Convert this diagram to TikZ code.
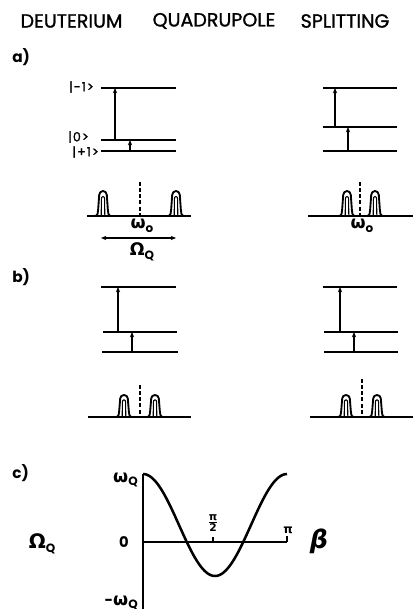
\documentclass[tikz,border=0pt]{standalone}
\usepackage{fontspec}
\setmainfont{Poppins}
\newfontfamily\gr{DejaVu Sans}
\newfontfamily\ttl{Poppins}[FakeBold=1.2]
\newfontfamily\ket{Poppins}[LetterSpace=8,FakeBold=1.5]
\usetikzlibrary{arrows.meta}
\newcommand\gsub[3]{{\gr\bfseries\fontsize{#3}{#3}\selectfont #1}\raisebox{-0.5ex}{\fontsize{9}{9}\selectfont\bfseries #2}}
\tikzset{
  lvl/.style={line width=1.4pt},
  trans/.style={line width=1.3pt,-{Stealth[length=4pt,width=3.2pt]}},
  peakline/.style={line width=1.4pt,line join=round},
  base/.style={line width=1.4pt},
  mid/.style={line width=1.4pt,dash pattern=on 3pt off 1.6pt},
  lab/.style={inner sep=0pt,font=\ket\fontsize{9.5}{10}\selectfont},
  plab/.style={inner sep=0pt,font=\fontsize{11.5}{12}\selectfont\bfseries},
  ax/.style={line width=1.5pt},
  titl/.style={inner sep=0pt,font=\ttl\fontsize{14.3}{16}\selectfont},
  pics/peak/.style={code={
    \draw[peakline] (-8,0) to[out=0,in=-95] (-4.8,-7) -- (-3.8,-21) to[out=90,in=180] (0,-25) to[out=0,in=90] (3.8,-21) -- (4.8,-7) to[out=-85,in=180] (8,0);
    \draw[line width=0.8pt] (-1.8,0) -- (-1.6,-17) to[out=90,in=180] (0,-19.5) to[out=0,in=90] (1.6,-17) -- (1.8,0);
  }}
}
\begin{document}
\begin{tikzpicture}[x=0.75pt,y=-0.75pt]
\useasboundingbox (0,0) rectangle (413,609);
% title
\node[titl] (t1) at (71.5,21) {DEUTERIUM};
\node[titl] (t2) at (214,21) {QUADRUPOLE};
\node[titl] (t3) at (345,21) {SPLITTING};
% panel labels
\node[plab,anchor=west] (la) at (12,57) {a)};
\node[plab,anchor=west] (lb) at (12,277) {b)};
\node[plab,anchor=west] (lc) at (12,473) {c)};

% ---- a) left levels
\coordinate (aL1a) at (101,88);  \coordinate (aL1b) at (176,88);
\coordinate (aL2a) at (101,140); \coordinate (aL2b) at (176,140);
\coordinate (aL3a) at (101,151); \coordinate (aL3b) at (176,151);
\draw[lvl] (aL1a) -- (aL1b);
\draw[lvl] (aL2a) -- (aL2b);
\draw[lvl] (aL3a) -- (aL3b);
\node[lab,anchor=east] (km1) at (94,87) {|-1>};
\node[lab,anchor=east] (k0) at (89,137) {|0>};
\node[lab,anchor=east] (kp1) at (99,152) {|+1>};
\coordinate (aT1s) at (115,140); \coordinate (aT1e) at (115,88);
\coordinate (aT2s) at (130,151); \coordinate (aT2e) at (130,140);
\draw[trans] (aT1s) -- (aT1e);
\draw[trans] (aT2s) -- (aT2e);

% ---- a) right levels
\coordinate (aR1a) at (323,88);  \coordinate (aR1b) at (397,88);
\coordinate (aR2a) at (323,127); \coordinate (aR2b) at (397,127);
\coordinate (aR3a) at (323,151); \coordinate (aR3b) at (397,151);
\draw[lvl] (aR1a) -- (aR1b);
\draw[lvl] (aR2a) -- (aR2b);
\draw[lvl] (aR3a) -- (aR3b);
\coordinate (aRT1s) at (335,127); \coordinate (aRT1e) at (335,88);
\coordinate (aRT2s) at (348,151); \coordinate (aRT2e) at (348,127);
\draw[trans] (aRT1s) -- (aRT1e);
\draw[trans] (aRT2s) -- (aRT2e);

% ---- a) left spectrum
\coordinate (sA1) at (87,216); \coordinate (sA2) at (191,216);
\draw[base] (sA1) -- (sA2);
\pic at (103,216) {peak};
\pic at (176,216) {peak};
\coordinate (dA1) at (140,182); \coordinate (dA2) at (140,216);
\draw[mid] (dA1) -- (dA2);
\node[inner sep=0pt] (w0a) at (142,226) {\gsub{ω}{o}{13}};
\coordinate (oA1) at (101,238); \coordinate (oA2) at (176,238);
\draw[line width=1.2pt,{Stealth[length=4pt,width=3.2pt]}-{Stealth[length=4pt,width=3.2pt]}] (oA1) -- (oA2);
\node[inner sep=0pt] (OmA) at (142,252) {\gsub{Ω}{Q}{13}};

% ---- a) right spectrum
\coordinate (sB1) at (308,216); \coordinate (sB2) at (413,216);
\draw[base] (sB1) -- (sB2);
\pic at (347,216) {peak};
\pic at (375,216) {peak};
\coordinate (dB1) at (360,182); \coordinate (dB2) at (360,216);
\draw[mid] (dB1) -- (dB2);
\node[inner sep=0pt] (w0b) at (362,226) {\gsub{ω}{o}{13}};

% ---- b) left levels
\coordinate (bL1a) at (101,287); \coordinate (bL1b) at (176,287);
\coordinate (bL2a) at (103,332); \coordinate (bL2b) at (177,332);
\coordinate (bL3a) at (102,352); \coordinate (bL3b) at (178,352);
\draw[lvl] (bL1a) -- (bL1b);
\draw[lvl] (bL2a) -- (bL2b);
\draw[lvl] (bL3a) -- (bL3b);
\coordinate (bT1s) at (118,332); \coordinate (bT1e) at (118,287);
\coordinate (bT2s) at (132,352); \coordinate (bT2e) at (132,332);
\draw[trans] (bT1s) -- (bT1e);
\draw[trans] (bT2s) -- (bT2e);

% ---- b) right levels
\coordinate (bR1a) at (323,287); \coordinate (bR1b) at (397,287);
\coordinate (bR2a) at (324,332); \coordinate (bR2b) at (398,332);
\coordinate (bR3a) at (324,352); \coordinate (bR3b) at (398,352);
\draw[lvl] (bR1a) -- (bR1b);
\draw[lvl] (bR2a) -- (bR2b);
\draw[lvl] (bR3a) -- (bR3b);
\coordinate (bRT1s) at (340,332); \coordinate (bRT1e) at (340,287);
\coordinate (bRT2s) at (354,352); \coordinate (bRT2e) at (354,332);
\draw[trans] (bRT1s) -- (bRT1e);
\draw[trans] (bRT2s) -- (bRT2e);

% ---- b) spectra
\coordinate (sC1) at (88,417); \coordinate (sC2) at (191,417);
\draw[base] (sC1) -- (sC2);
\pic[yscale=0.88] at (124,417) {peak};
\pic[yscale=0.88] at (155,417) {peak};
\coordinate (dC1) at (140,385); \coordinate (dC2) at (140,417);
\draw[mid] (dC1) -- (dC2);

\coordinate (sD1) at (310,417); \coordinate (sD2) at (413,417);
\draw[base] (sD1) -- (sD2);
\pic[yscale=0.88] at (346,417) {peak};
\pic[yscale=0.88] at (377,417) {peak};
\coordinate (dD1) at (362,379); \coordinate (dD2) at (362,417);
\draw[mid] (dD1) -- (dD2);

% ---- c) plot
\coordinate (yTop) at (143,474); \coordinate (yBot) at (143,612);
\coordinate (xO) at (143,542); \coordinate (xE) at (287,542);
\draw[ax] (yTop) -- (yBot);
\draw[ax] (xO) -- (xE);
\coordinate (tE) at (287,536);
\draw[ax] (xE) -- (tE);
\coordinate (tM1) at (213,542); \coordinate (tM2) at (213,537);
\draw[ax] (tM1) -- (tM2);
\draw[line width=1.9pt,line join=round] plot[domain=0:180,samples=90,smooth] ({143+0.8*\x},{542-34*(3*cos(\x)*cos(\x)-1)});
\node[inner sep=0pt,anchor=east] (wq) at (138,480) {\gsub{ω}{Q}{13}};
\node[inner sep=0pt,anchor=east,font=\fontsize{11}{12}\selectfont\bfseries] (zero) at (129,542) {0};
\node[inner sep=0pt,anchor=east] (mwq) at (138,603) {{\bfseries\fontsize{11}{12}\selectfont -}\gsub{ω}{Q}{13}};
\node[inner sep=0pt,font=\gr\bfseries\fontsize{8}{8}\selectfont] (pi2) at (213,523) {$\frac{\mbox{π}}{\mbox{2}}$};
\node[inner sep=0pt,font=\gr\bfseries\fontsize{9}{9}\selectfont] (pi) at (288,530) {π};
\node[inner sep=0pt,font=\gr\bfseries\itshape\fontsize{19}{20}\selectfont] (beta) at (319,541) {β};
\node[inner sep=0pt] (OmQ) at (42,544) {\gsub{Ω}{Q}{15}};
\end{tikzpicture}
\end{document}
